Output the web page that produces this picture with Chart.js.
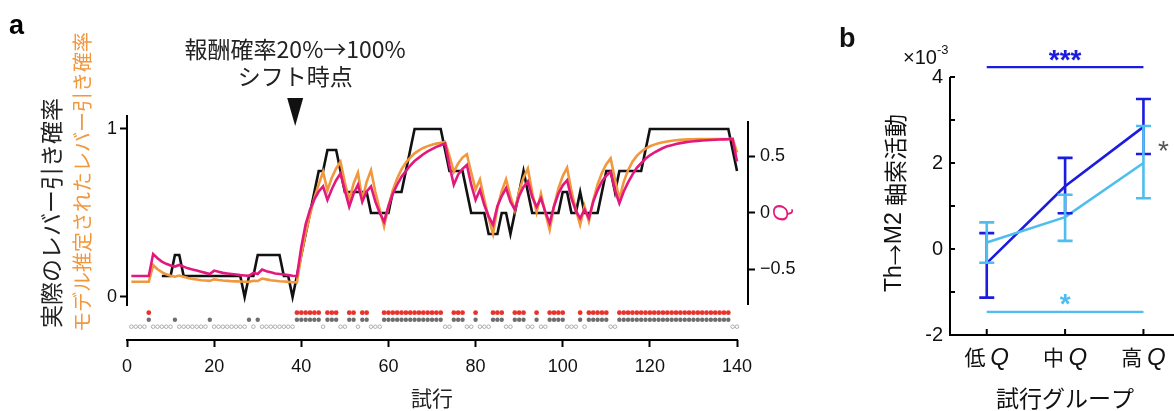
<!DOCTYPE html>
<html>
<head>
<meta charset="utf-8">
<script src="https://cdn.jsdelivr.net/npm/chart.js@4.4.1/dist/chart.umd.min.js"></script>
<style>
html, body { margin: 0; padding: 0; background: #fff; }
#wrap { position: relative; width: 1174px; height: 411px; overflow: hidden; }
#boxA { position: absolute; left: 0; top: 0; width: 830px; height: 411px; }
#boxB { position: absolute; left: 830px; top: 0; width: 344px; height: 411px; }
</style>
</head>
<body>
<div id="wrap">
  <div id="boxA"><canvas id="chartA"></canvas></div>
  <div id="boxB"><canvas id="chartB"></canvas></div>
</div>
<script>
// ---- panel a data ----
const trialTicks = [0, 20, 40, 60, 80, 100, 120, 140];
const probTicks = [0, 1];
const qTicks = [-0.5, 0, 0.5];
const shiftTrial = 38.6;

// actual lever-pull probability, trials 8..140
const actualStart = 8;
const actualProb = [
  0.125, 0.125, 0.125, 0.25, 0.25,
  0.125, 0.125, 0.125, 0.125, 0.125, 0.125, 0.125, 0.125, 0.125, 0.125, 0.125, 0.125, 0.125, 0.125,
  0, 0.125, 0.125, 0.25, 0.25, 0.25, 0.25, 0.25, 0.25, 0.125, 0.125, 0,
  0.125, 0.25, 0.375, 0.5, 0.625, 0.75, 0.75, 0.875, 0.875, 0.875, 0.75,
  0.625, 0.625, 0.625, 0.625, 0.625, 0.625, 0.5, 0.5, 0.5, 0.5, 0.5,
  0.625, 0.625, 0.625, 0.75, 0.875, 1, 1, 1, 1, 1, 1, 1,
  0.875, 0.75, 0.75, 0.75, 0.75, 0.625, 0.5, 0.5, 0.5, 0.5,
  0.375, 0.375, 0.375, 0.5, 0.5, 0.375, 0.5, 0.625, 0.75, 0.625,
  0.5, 0.5, 0.5, 0.5, 0.5, 0.5, 0.5, 0.625, 0.625, 0.5, 0.5, 0.625,
  0.5, 0.5, 0.5, 0.5, 0.625, 0.75, 0.75, 0.625,
  0.75, 0.75, 0.75, 0.75, 0.75, 0.75, 0.875,
  1, 1, 1, 1, 1, 1, 1, 1, 1, 1, 1, 1, 1, 1, 1, 1, 1, 1, 1,
  0.875, 0.75
];

// model-estimated lever-pull probability, trials 1..140
const modelProb = [
  0.091, 0.091, 0.091, 0.091, 0.091, 0.19, 0.165, 0.148, 0.135, 0.127,
  0.121, 0.128, 0.120, 0.113, 0.108, 0.104, 0.100, 0.098, 0.096, 0.105,
  0.101, 0.098, 0.096, 0.094, 0.093, 0.092, 0.091, 0.090, 0.097, 0.095,
  0.110, 0.105, 0.100, 0.097, 0.094, 0.092, 0.090, 0.088, 0.087, 0.25,
  0.38, 0.49, 0.59, 0.67, 0.745, 0.635, 0.71, 0.765, 0.805, 0.68,
  0.575, 0.675, 0.74, 0.58, 0.685, 0.755, 0.625, 0.52, 0.42, 0.54,
  0.635, 0.705, 0.76, 0.80, 0.83, 0.855, 0.873, 0.887, 0.898, 0.906,
  0.913, 0.918, 0.923, 0.84, 0.745, 0.795, 0.83, 0.85, 0.74, 0.64,
  0.70, 0.58, 0.47, 0.375, 0.53, 0.63, 0.70, 0.60, 0.515, 0.63,
  0.71, 0.765, 0.62, 0.505, 0.615, 0.50, 0.40, 0.54, 0.645, 0.72,
  0.77, 0.63, 0.52, 0.43, 0.54, 0.45, 0.575, 0.67, 0.74, 0.79,
  0.825, 0.70, 0.585, 0.685, 0.755, 0.805, 0.84, 0.865, 0.883, 0.897,
  0.907, 0.915, 0.921, 0.926, 0.93, 0.933, 0.935, 0.937, 0.938, 0.939,
  0.94, 0.94, 0.94, 0.94, 0.94, 0.94, 0.94, 0.94, 0.942, 0.86
];

// model Q value (right axis), trials 1..140
const modelQ = [
  -0.558, -0.558, -0.558, -0.558, -0.558, -0.363, -0.40, -0.43, -0.45, -0.465,
  -0.474, -0.46, -0.475, -0.49, -0.50, -0.51, -0.52, -0.53, -0.54, -0.51,
  -0.52, -0.53, -0.535, -0.54, -0.545, -0.55, -0.553, -0.556, -0.53, -0.54,
  -0.50, -0.515, -0.525, -0.535, -0.54, -0.545, -0.55, -0.555, -0.558, -0.30,
  -0.10, 0.03, 0.12, 0.19, 0.235, 0.115, 0.21, 0.29, 0.35, 0.20,
  0.056, 0.17, 0.25, 0.10, 0.19, 0.235, 0.10, 0.00, -0.077, 0.06,
  0.17, 0.25, 0.32, 0.37, 0.42, 0.46, 0.49, 0.52, 0.545, 0.565,
  0.585, 0.60, 0.615, 0.42, 0.25, 0.34, 0.39, 0.425, 0.25, 0.115,
  0.205, 0.07, -0.03, -0.105, 0.06, 0.15, 0.22, 0.10, 0.03, 0.15,
  0.23, 0.28, 0.14, 0.055, 0.13, 0.01, -0.09, 0.06, 0.17, 0.245,
  0.29, 0.13, 0.02, -0.047, 0.03, -0.045, 0.10, 0.20, 0.28, 0.33,
  0.365, 0.20, 0.085, 0.19, 0.27, 0.34, 0.40, 0.44, 0.48, 0.51,
  0.535, 0.555, 0.575, 0.59, 0.60, 0.61, 0.618, 0.625, 0.63, 0.635,
  0.638, 0.641, 0.644, 0.646, 0.648, 0.65, 0.651, 0.652, 0.653, 0.455
];

// trials with a lever pull, and the unrewarded ones among them
const pullTrials = [
  5, 11, 19, 28, 30,
  39, 40, 41, 42, 43, 44, 46, 47, 48, 51, 52, 54, 55,
  59, 60, 61, 62, 63, 64, 65, 66, 67, 68, 69, 70, 71, 72,
  75, 76, 77, 80, 84, 85, 86, 89, 90, 91, 94, 97, 98, 99, 100, 104,
  106, 107, 108, 109, 110,
  113, 114, 115, 116, 117, 118, 119, 120, 121, 122, 123, 124, 125, 126,
  127, 128, 129, 130, 131, 132, 133, 134, 135, 136, 137, 138
];
const unrewardedPulls = [11, 19, 28, 30];
const totalTrials = 140;

// ---- panel b data ----
const groupX = [1, 2, 3];
const groupNames = ['低', '中', '高'];
const darkMean = [-0.33, 1.46, 2.84];
const darkLow = [-1.13, 0.83, 2.21];
const darkHigh = [0.37, 2.12, 3.49];
const lightMean = [0.15, 0.74, 2.0];
const lightLow = [-0.32, 0.19, 1.18];
const lightHigh = [0.62, 1.26, 2.86];
const sigDarkLevel = 4.23;
const sigLightLevel = -1.46;
const bTicks = [-2, 0, 2, 4];

const BLACK = '#111111';
const ORANGE = '#f1973c';
const MAGENTA = '#e3187c';
const RED = '#e8322b';
const GRAYDOT = '#6e6e6e';
const OPEN = '#9c9c9c';
const DARK = '#1c1ce0';
const LIGHT = '#4fbeee';

const SANS = '"Liberation Sans", Arial, "Noto Sans CJK JP", sans-serif';
const CJK = '"Noto Sans CJK JP", "Liberation Sans", sans-serif';

const rewardTrials = pullTrials.filter(t => unrewardedPulls.indexOf(t) < 0);
const noPullTrials = [];
for (let t = 1; t <= totalTrials; t++) {
    if (pullTrials.indexOf(t) < 0) noPullTrials.push(t);
}

// rotated text made of runs with their own fonts, centred on (cx, cy)
function vRuns(ctx, runs, cx, cy, color) {
    ctx.save();
    ctx.translate(cx, cy);
    ctx.rotate(-Math.PI / 2);
    ctx.fillStyle = color;
    ctx.textAlign = 'left';
    ctx.textBaseline = 'middle';
    let total = 0;
    runs.forEach(r => { ctx.font = r.font; r.w = ctx.measureText(r.text).width; total += r.w; });
    let pos = -total / 2;
    runs.forEach(r => { ctx.font = r.font; ctx.fillText(r.text, pos, 0); pos += r.w; });
    ctx.restore();
}

const panelAPlugin = {
    id: 'panelA',
    afterDraw(chart) {
        const ctx = chart.ctx;
        const x = chart.scales.x, y = chart.scales.y, yQ = chart.scales.yQ;
        ctx.save();
        ctx.strokeStyle = '#000';
        ctx.lineWidth = 2;
        ctx.beginPath();
        // left axis, right axis, bottom axis
        ctx.moveTo(x.left, y.getPixelForValue(-0.054));
        ctx.lineTo(x.left, y.getPixelForValue(1.083));
        ctx.moveTo(x.right, yQ.getPixelForValue(-0.814));
        ctx.lineTo(x.right, yQ.getPixelForValue(0.814));
        ctx.moveTo(x.getPixelForValue(0) - 1, x.top);
        ctx.lineTo(x.getPixelForValue(140) + 1, x.top);
        ctx.stroke();

        // shift marker
        const sx = x.getPixelForValue(shiftTrial);
        ctx.fillStyle = '#111';
        ctx.beginPath();
        ctx.moveTo(sx - 8, 98);
        ctx.lineTo(sx + 8, 98);
        ctx.lineTo(sx, 126);
        ctx.closePath();
        ctx.fill();
        ctx.font = '23px ' + CJK;
        ctx.textAlign = 'center';
        ctx.textBaseline = 'middle';
        ctx.fillStyle = '#222';
        ctx.fillText('報酬確率20%→100%', sx, 49);
        ctx.fillText('シフト時点', sx, 76);

        // panel letter
        ctx.font = 'bold 27px ' + SANS;
        ctx.textAlign = 'left';
        ctx.textBaseline = 'alphabetic';
        ctx.fillStyle = '#000';
        ctx.fillText('a', 9, 34);

        // axis titles
        vRuns(ctx, [{ text: '実際のレバー引き確率', font: '23px ' + CJK }], 51, 213, '#222');
        vRuns(ctx, [{ text: 'モデル推定されたレバー引き確率', font: '20px ' + CJK }], 82, 182, ORANGE);
        vRuns(ctx, [{ text: 'Q', font: 'italic 22px ' + SANS }], 782, yQ.getPixelForValue(0), MAGENTA);

        ctx.font = '21px ' + CJK;
        ctx.textAlign = 'center';
        ctx.textBaseline = 'middle';
        ctx.fillStyle = '#222';
        ctx.fillText('試行', x.getPixelForValue(70), 398);
        ctx.restore();
    }
};

const lineStyle = { pointRadius: 0, pointHoverRadius: 0, borderWidth: 2.6, tension: 0, fill: false };
const tickFont = { family: SANS, size: 18 };

new Chart(document.getElementById('chartA'), {
    type: 'line',
    data: {
        datasets: [
            Object.assign({ label: 'Q', yAxisID: 'yQ', borderColor: MAGENTA,
                data: modelQ.map((v, i) => ({ x: i + 1, y: v })) }, lineStyle),
            Object.assign({ label: 'model', yAxisID: 'y', borderColor: ORANGE,
                data: modelProb.map((v, i) => ({ x: i + 1, y: v })) }, lineStyle),
            Object.assign({ label: 'actual', yAxisID: 'y', borderColor: BLACK,
                data: actualProb.map((v, i) => ({ x: i + actualStart, y: v })) }, lineStyle),
            { label: 'reward', yAxisID: 'yRows', showLine: false, pointRadius: 2.4, pointHoverRadius: 0,
              pointBackgroundColor: RED, pointBorderWidth: 0,
              data: rewardTrials.map(t => ({ x: t, y: 3 })) },
            { label: 'pull', yAxisID: 'yRows', showLine: false, pointRadius: 2.2, pointHoverRadius: 0,
              pointBackgroundColor: GRAYDOT, pointBorderWidth: 0,
              data: pullTrials.map(t => ({ x: t, y: 2 })) },
            { label: 'none', yAxisID: 'yRows', showLine: false, pointRadius: 1.8, pointHoverRadius: 0,
              pointBackgroundColor: '#fff', pointBorderColor: OPEN, pointBorderWidth: 0.8,
              data: noPullTrials.map(t => ({ x: t, y: 1 })) }
        ]
    },
    options: {
        responsive: true,
        maintainAspectRatio: false,
        animation: false,
        events: [],
        layout: { padding: { top: 115, left: 0, right: 0, bottom: 0 } },
        plugins: { legend: { display: false }, tooltip: { enabled: false } },
        scales: {
            x: {
                type: 'linear', min: 0, max: 142.52, position: 'bottom',
                afterFit: s => { s.height = 71; },
                afterBuildTicks: s => { s.ticks = trialTicks.map(v => ({ value: v })); },
                border: { display: false },
                grid: { drawOnChartArea: false, drawTicks: true, tickLength: 7, tickWidth: 2, tickColor: '#000' },
                ticks: { font: tickFont, color: '#111', padding: 9, maxRotation: 0 }
            },
            y: {
                type: 'linear', position: 'left', min: -0.256, max: 1.0833,
                afterFit: s => { s.width = 127; },
                afterBuildTicks: s => { s.ticks = probTicks.map(v => ({ value: v })); },
                border: { display: false },
                grid: { drawOnChartArea: false, drawTicks: true, tickLength: 7, tickWidth: 2, tickColor: '#000' },
                ticks: { font: tickFont, color: '#111', padding: 3 }
            },
            yQ: {
                type: 'linear', position: 'right', min: -1.124, max: 0.867,
                afterFit: s => { s.width = 82; },
                afterBuildTicks: s => { s.ticks = qTicks.map(v => ({ value: v })); },
                border: { display: false },
                grid: { drawOnChartArea: false, drawTicks: true, tickLength: 7, tickWidth: 2, tickColor: '#000' },
                ticks: {
                    font: tickFont, color: '#111', padding: 5,
                    callback: v => (v < 0 ? '\u2212' + Math.abs(v) : String(v))
                }
            },
            yRows: { type: 'linear', axis: 'y', position: 'left', display: false, min: -0.9, max: 31.24 }
        }
    },
    plugins: [panelAPlugin]
});

function drawErrorBars(ctx, xs, ys, lows, highs, color) {
    ctx.save();
    ctx.strokeStyle = color;
    ctx.lineWidth = 2.6;
    ctx.beginPath();
    for (let i = 0; i < groupX.length; i++) {
        const px = xs.getPixelForValue(groupX[i]);
        const lo = ys.getPixelForValue(lows[i]);
        const hi = ys.getPixelForValue(highs[i]);
        ctx.moveTo(px, lo);
        ctx.lineTo(px, hi);
        ctx.moveTo(px - 7.5, lo);
        ctx.lineTo(px + 7.5, lo);
        ctx.moveTo(px - 7.5, hi);
        ctx.lineTo(px + 7.5, hi);
    }
    ctx.stroke();
    ctx.restore();
}

const panelBPlugin = {
    id: 'panelB',
    afterDatasetsDraw(chart) {
        const ctx = chart.ctx;
        const x = chart.scales.x, y = chart.scales.y;
        drawErrorBars(ctx, x, y, darkLow, darkHigh, DARK);
        drawErrorBars(ctx, x, y, lightLow, lightHigh, LIGHT);
    },
    afterDraw(chart) {
        const ctx = chart.ctx;
        const x = chart.scales.x, y = chart.scales.y;
        const left = chart.chartArea.left, right = chart.chartArea.right;
        const bottom = y.getPixelForValue(-2);
        ctx.save();
        ctx.strokeStyle = '#000';
        ctx.lineWidth = 2;
        ctx.beginPath();
        ctx.moveTo(left, y.getPixelForValue(4));
        ctx.lineTo(left, bottom);
        ctx.lineTo(right, bottom);
        for (let v = -1; v <= 4; v++) {
            ctx.moveTo(left, y.getPixelForValue(v));
            ctx.lineTo(left + 5, y.getPixelForValue(v));
        }
        groupX.forEach(g => {
            ctx.moveTo(x.getPixelForValue(g), bottom);
            ctx.lineTo(x.getPixelForValue(g), bottom - 6);
        });
        ctx.stroke();

        // group labels: kanji + italic Q
        ctx.textBaseline = 'middle';
        ctx.fillStyle = '#111';
        groupNames.forEach((name, i) => {
            const cx = x.getPixelForValue(groupX[i]);
            ctx.font = '21px ' + CJK;
            const w1 = ctx.measureText(name + ' ').width;
            ctx.font = 'italic 24px ' + SANS;
            const w2 = ctx.measureText('Q').width;
            const x0 = cx - (w1 + w2) / 2;
            ctx.textAlign = 'left';
            ctx.font = '21px ' + CJK;
            ctx.fillText(name, x0, 357);
            ctx.font = 'italic 24px ' + SANS;
            ctx.fillText('Q', x0 + w1, 358);
        });

        ctx.textAlign = 'center';
        ctx.font = '23px ' + CJK;
        ctx.fillText('試行グループ', x.getPixelForValue(2), 398);

        vRuns(ctx, [
            { text: 'Th', font: '23px ' + SANS },
            { text: '\u2192', font: '21px ' + CJK },
            { text: 'M2 ', font: '23px ' + SANS },
            { text: '軸索活動', font: '23px ' + CJK }
        ], 65, 203, '#111');

        ctx.textAlign = 'left';
        ctx.font = '20px ' + SANS;
        ctx.fillText('\u00d710', 73, 58);
        ctx.font = '13px ' + SANS;
        ctx.fillText('-3', 107, 50);

        ctx.font = 'bold 27px ' + SANS;
        ctx.textBaseline = 'alphabetic';
        ctx.fillText('b', 9, 47);

        // significance stars
        ctx.font = 'bold 28px ' + SANS;
        ctx.textAlign = 'center';
        ctx.fillStyle = DARK;
        ctx.fillText('***', x.getPixelForValue(2), y.getPixelForValue(sigDarkLevel) + 2);
        ctx.fillStyle = LIGHT;
        ctx.fillText('*', x.getPixelForValue(2), y.getPixelForValue(sigLightLevel) + 1);
        ctx.font = '28px ' + SANS;
        ctx.fillStyle = '#555';
        ctx.fillText('*', x.getPixelForValue(3) + 20, y.getPixelForValue(2.35) + 12);
        ctx.restore();
    }
};

new Chart(document.getElementById('chartB'), {
    type: 'line',
    data: {
        datasets: [
            Object.assign({ label: 'light', borderColor: LIGHT,
                data: lightMean.map((v, i) => ({ x: groupX[i], y: v })) }, lineStyle),
            Object.assign({ label: 'dark', borderColor: DARK,
                data: darkMean.map((v, i) => ({ x: groupX[i], y: v })) }, lineStyle),
            Object.assign({ label: 'sigLight', borderColor: LIGHT, borderWidth: 2.2,
                data: [{ x: groupX[0], y: sigLightLevel }, { x: groupX[2], y: sigLightLevel }] }, { pointRadius: 0, pointHoverRadius: 0 }),
            Object.assign({ label: 'sigDark', borderColor: DARK, borderWidth: 2.2,
                data: [{ x: groupX[0], y: sigDarkLevel }, { x: groupX[2], y: sigDarkLevel }] }, { pointRadius: 0, pointHoverRadius: 0 })
        ]
    },
    options: {
        responsive: true,
        maintainAspectRatio: false,
        animation: false,
        events: [],
        layout: { padding: { top: 55.5, left: 0, right: 0, bottom: 76 } },
        plugins: { legend: { display: false }, tooltip: { enabled: false } },
        scales: {
            x: { type: 'linear', display: false, min: 0.531, max: 3.39 },
            y: {
                min: -2, max: 4.5,
                afterFit: s => { s.width = 120; },
                afterBuildTicks: s => { s.ticks = bTicks.map(v => ({ value: v })); },
                border: { display: false },
                grid: { display: false, drawTicks: false },
                ticks: { font: { family: SANS, size: 20 }, color: '#111', padding: 7 }
            }
        }
    },
    plugins: [panelBPlugin]
});
</script>
</body>
</html>
